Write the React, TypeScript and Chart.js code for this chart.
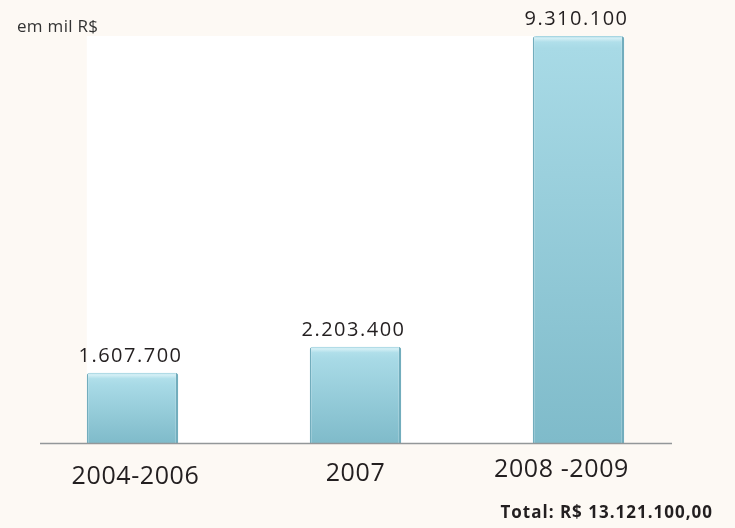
import React, { useEffect, useRef } from "react";
import { Chart, registerables } from "chart.js";

Chart.register(...registerables);

const categories = ["2004-2006", "2007", "2008 -2009"];
const values = [1607700, 2203400, 9310100];
const valueLabels = ["1.607.700", "2.203.400", "9.310.100"];
const unitLabel = "em mil R$";
const totalLabel = "Total: R$ 13.121.100,00";

// Small nudges for the category captions under each bar.
const captionShiftX = [3, 0, -17];
const captionShiftY = [3, 0, -4];

const BG = "#fdf9f4";
const FONT = "'Open Sans', 'DejaVu Sans', sans-serif";

// Paints the white panel behind the bars and the base line.
const backdropPlugin = {
  id: "backdrop",
  beforeDatasetsDraw(chart: any) {
    const { ctx, scales } = chart;
    const meta = chart.getDatasetMeta(0);
    const first = meta.data[0] as any;
    const last = meta.data[meta.data.length - 1] as any;
    const left = first.x - first.width / 2;
    const right = last.x + last.width / 2;
    const top = scales.y.getPixelForValue(Math.max(...values));
    const base = scales.y.getPixelForValue(0);
    ctx.save();
    ctx.fillStyle = "#ffffff";
    ctx.fillRect(left, top, right - left, base - top);
    ctx.restore();
  },
  afterDatasetsDraw(chart: any) {
    const { ctx, chartArea, scales } = chart;
    const base = Math.round(scales.y.getPixelForValue(0)) + 0.5;
    ctx.save();
    ctx.strokeStyle = "#939799";
    ctx.lineWidth = 1.5;
    ctx.beginPath();
    ctx.moveTo(chartArea.left + 19, base);
    ctx.lineTo(chartArea.right - 18, base);
    ctx.stroke();
    ctx.restore();
  },
};

// Value labels above the bars, category labels below, plus the notes.
const labelsPlugin = {
  id: "labels",
  afterDraw(chart: any) {
    const { ctx, scales, width } = chart;
    const meta = chart.getDatasetMeta(0);
    const base = scales.y.getPixelForValue(0);
    ctx.save();
    ctx.fillStyle = "#231f20";
    ctx.textAlign = "center";
    ctx.textBaseline = "alphabetic";
    (ctx as any).letterSpacing = "1.5px";
    ctx.font = `20px ${FONT}`;
    meta.data.forEach((bar: any, i: number) => {
      ctx.fillText(valueLabels[i], bar.x - 2, bar.y - 11);
    });
    (ctx as any).letterSpacing = "0.6px";
    ctx.font = `25px ${FONT}`;
    categories.forEach((c, i) => {
      const x = scales.x.getPixelForValue(i) + captionShiftX[i];
      ctx.fillText(c, x, base + 38 + captionShiftY[i]);
    });
    (ctx as any).letterSpacing = "0.3px";
    ctx.font = `17px ${FONT}`;
    ctx.textAlign = "left";
    ctx.fillStyle = "#333333";
    ctx.fillText(unitLabel, 17, 32);
    (ctx as any).letterSpacing = "1px";
    ctx.font = `bold 17px ${FONT}`;
    ctx.textAlign = "right";
    ctx.fillStyle = "#231f20";
    ctx.fillText(totalLabel, width - 22, 518);
    ctx.restore();
  },
};

export default function App() {
  const canvasRef = useRef<HTMLCanvasElement | null>(null);

  useEffect(() => {
    document.body.style.margin = "0";
    document.body.style.background = BG;
    const canvas = canvasRef.current!;
    const chart = new Chart(canvas, {
      type: "bar",
      data: {
        labels: categories,
        datasets: [
          {
            data: values,
            backgroundColor: (context: any) => {
              const c = context.chart;
              const y = c.scales && c.scales.y;
              if (!y || !context.parsed) return "#a6d8e5";
              const top = y.getPixelForValue(context.parsed.y);
              const bottom = y.getPixelForValue(0);
              if (!isFinite(top) || !isFinite(bottom) || bottom <= top) return "#a6d8e5";
              const g = c.ctx.createLinearGradient(0, top, 0, bottom);
              const h = bottom - top;
              const s = (px: number) => Math.min(px / h, 1);
              g.addColorStop(0, "#98cedc");
              g.addColorStop(s(2), "#d6f0f6");
              g.addColorStop(s(6), "#b0dfea");
              g.addColorStop(s(12), "#a8dae6");
              g.addColorStop(1, "#7fbbca");
              return g;
            },
            borderColor: "#72adbd",
            borderWidth: { left: 1.5, right: 2.5, top: 0, bottom: 0 } as any,
            borderSkipped: "bottom",
            borderRadius: { topLeft: 3, topRight: 3, bottomLeft: 0, bottomRight: 0 },
            barPercentage: 0.41,
            categoryPercentage: 1,
          },
        ],
      },
      options: {
        animation: false,
        responsive: false,
        maintainAspectRatio: false,
        layout: { padding: { left: 21, right: 45, top: 36, bottom: 85 } },
        plugins: {
          legend: { display: false },
          tooltip: { enabled: false },
          title: { display: false },
        },
        scales: {
          x: { display: false },
          y: { display: false, min: 0, max: 9310100 },
        },
      },
      plugins: [backdropPlugin, labelsPlugin],
    });
    return () => chart.destroy();
  }, []);

  return (
    <div style={{ position: "fixed", left: 0, top: 0, width: 735, height: 528, background: BG }}>
      <canvas ref={canvasRef} width={735} height={528} style={{ display: "block" }} />
    </div>
  );
}
